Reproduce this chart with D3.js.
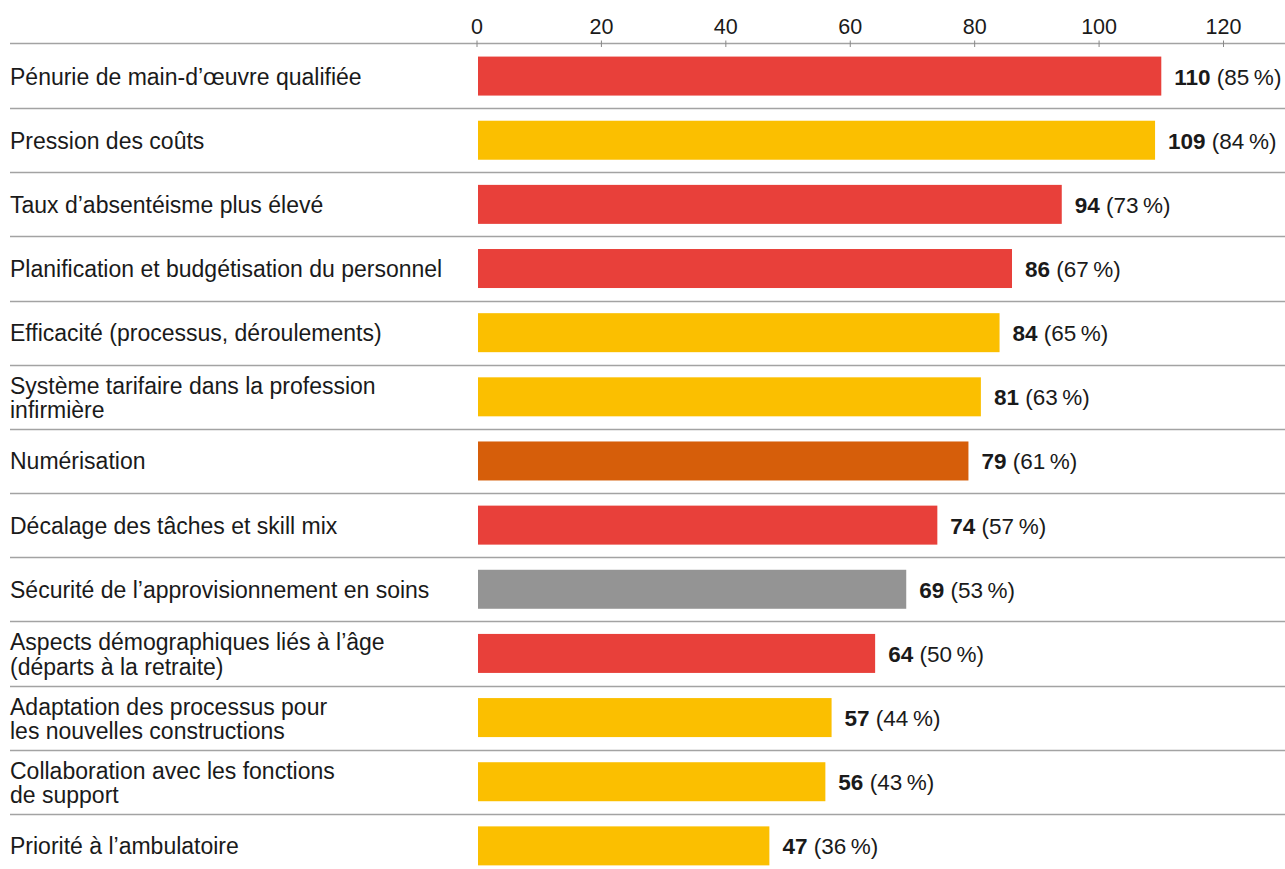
<!DOCTYPE html>
<html>
<head>
<meta charset="utf-8">
<script src="https://cdn.jsdelivr.net/npm/d3@7"></script>
<style>
  body { margin: 0; background: #fff; }
  text { font-family: "Liberation Sans", Arial, Helvetica, sans-serif; fill: #1a1a1a; }
</style>
</head>
<body>
<div id="chart"></div>
<script>
var labels = [
  ["Pénurie de main-d’œuvre qualifiée"],
  ["Pression des coûts"],
  ["Taux d’absentéisme plus élevé"],
  ["Planification et budgétisation du personnel"],
  ["Efficacité (processus, déroulements)"],
  ["Système tarifaire dans la profession", "infirmière"],
  ["Numérisation"],
  ["Décalage des tâches et skill mix"],
  ["Sécurité de l’approvisionnement en soins"],
  ["Aspects démographiques liés à l’âge", "(départs à la retraite)"],
  ["Adaptation des processus pour", "les nouvelles constructions"],
  ["Collaboration avec les fonctions", "de support"],
  ["Priorité à l’ambulatoire"]
];
var values = [110, 109, 94, 86, 84, 81, 79, 74, 69, 64, 57, 56, 47];
var percents = [85, 84, 73, 67, 65, 63, 61, 57, 53, 50, 44, 43, 36];
var groups = ["r", "y", "r", "r", "y", "y", "o", "r", "g", "r", "y", "y", "y"];
var ticks = [0, 20, 40, 60, 80, 100, 120];

var width = 1285, height = 869;
var rowH = 64.15;
var topY = 44;
var fs = 22.5;

var colour = d3.scaleOrdinal()
  .domain(["r", "y", "o", "g"])
  .range(["#e8403a", "#fbbf00", "#d65e0a", "#949494"]);

var svg = d3.select("#chart").append("svg")
  .attr("width", width)
  .attr("height", height);

var x = d3.scaleLinear()
  .domain([0, 120])
  .range([477, 1223.5]);

var y = d3.scaleBand()
  .domain(d3.range(values.length))
  .range([topY, topY + rowH * values.length]);

// separators between rows
svg.selectAll("line.sep")
  .data(d3.range(values.length - 1))
  .enter()
  .append("line")
  .attr("class", "sep")
  .attr("x1", 10)
  .attr("x2", width)
  .attr("y1", function(i){ return Math.round(y(i) + y.bandwidth()) + 0.5; })
  .attr("y2", function(i){ return Math.round(y(i) + y.bandwidth()) + 0.5; })
  .attr("stroke", "#a3a3a3")
  .attr("stroke-width", 1.5);

// top axis
var axisG = svg.append("g")
  .attr("transform", "translate(0," + (topY - 0.5) + ")");
axisG.append("line")
  .attr("x1", 10).attr("x2", width)
  .attr("stroke", "#a3a3a3").attr("stroke-width", 1.5);
axisG.selectAll("line.tick")
  .data(ticks)
  .enter()
  .append("line")
  .attr("class", "tick")
  .attr("x1", d => x(d)).attr("x2", d => x(d))
  .attr("y1", -3).attr("y2", 3.5)
  .attr("stroke", "#888").attr("stroke-width", 1);
axisG.selectAll("text")
  .data(ticks)
  .enter()
  .append("text")
  .attr("x", d => x(d))
  .attr("y", -10)
  .attr("text-anchor", "middle")
  .attr("font-size", 21.5)
  .text(d => d);

var bh = 39;

svg.selectAll("rect.bar")
  .data(values)
  .enter()
  .append("rect")
  .attr("class", "bar")
  .attr("x", x(0) + 1)
  .attr("y", (d, i) => y(i) + y.bandwidth() / 2 - bh / 2)
  .attr("width", d => x(d) - x(0) - 1)
  .attr("height", bh)
  .attr("fill", (d, i) => colour(groups[i]));

// category labels
var lab = svg.selectAll("text.cat")
  .data(labels)
  .enter()
  .append("text")
  .attr("class", "cat")
  .attr("font-size", 23)
  .attr("x", 10)
  .attr("y", function(d, i){
    var c = y(i) + y.bandwidth() / 2;
    return d.length == 1 ? c + 8.5 : c - 3;
  });
lab.selectAll("tspan")
  .data(d => d)
  .enter()
  .append("tspan")
  .attr("x", 10)
  .attr("dy", (d, j) => j == 0 ? 0 : 24.5)
  .text(d => d);

// value labels
var vl = svg.selectAll("text.val")
  .data(values)
  .enter()
  .append("text")
  .attr("class", "val")
  .attr("font-size", fs)
  .attr("x", d => x(d) + 13)
  .attr("y", (d, i) => y(i) + y.bandwidth() / 2 + 8.5);
vl.append("tspan")
  .attr("font-weight", "bold")
  .text(d => d);
vl.append("tspan")
  .text((d, i) => " (" + percents[i] + "\u202F%)");
</script>
</body>
</html>
